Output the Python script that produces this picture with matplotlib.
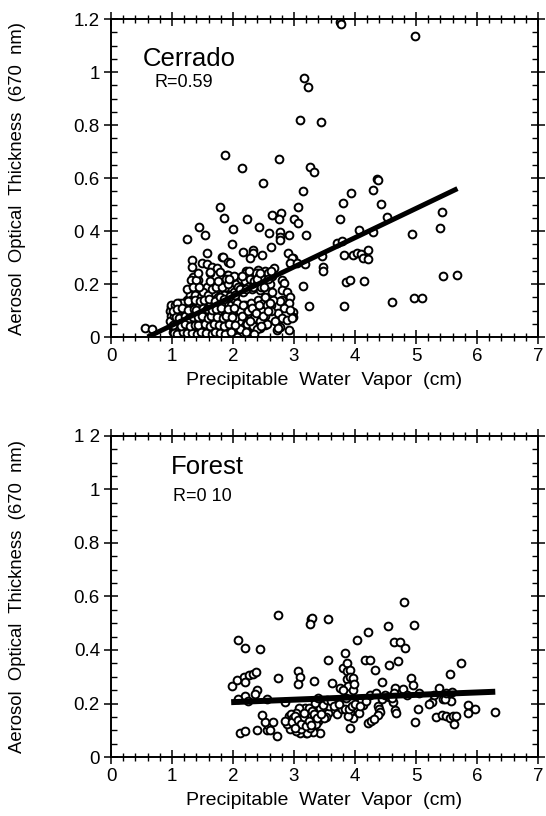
"""Aerosol optical thickness vs precipitable water vapor, Cerrado and Forest."""

import matplotlib
matplotlib.use("Agg")
import matplotlib.pyplot as plt
from matplotlib.ticker import MultipleLocator

plt.rcParams["font.family"] = ["Liberation Sans", "DejaVu Sans"]

# ---- Cerrado (top panel) ----
cerrado_x = [
    3.75, 3.77, 4.99, 3.16, 3.23, 3.10, 3.44, 1.87, 2.14, 2.75, 3.26, 3.32, 4.36, 2.50,
    1.79, 1.85, 2.23, 2.64, 2.79, 2.75, 3.00, 3.07, 3.06, 1.44, 1.54, 1.25, 2.00, 2.43,
    2.59, 2.77, 2.77, 2.77, 2.92, 1.99, 2.63, 1.57, 1.82, 2.17, 2.33, 2.33, 2.47, 2.90,
    1.33, 3.14, 3.93, 4.29, 4.37, 3.80, 4.42, 3.75, 4.52, 5.43, 5.40, 4.93, 3.19, 4.07,
    4.29, 3.70, 3.78, 3.82, 3.97, 4.03, 4.10, 4.21, 4.13, 4.22, 3.46, 3.18, 2.98, 3.47,
    3.48, 3.85, 3.92, 4.15, 3.15, 5.44, 5.67, 3.24, 3.82, 4.60, 4.96, 5.10, 2.99, 2.99,
    0.56, 0.68, 0.99, 1.49, 1.57, 1.66, 1.74, 1.32, 1.35, 1.43, 1.31, 1.38, 1.62, 1.74,
    1.62, 1.83, 1.92, 1.95, 2.28, 2.41, 2.96, 2.93, 3.05, 1.90, 2.03, 2.14, 2.28, 2.39,
    2.17, 2.50, 2.44, 2.80, 2.83, 2.80, 2.88, 2.93, 2.80, 2.91, 2.83, 2.93, 2.74, 2.80,
    2.88, 2.96, 2.77, 2.91, 2.72, 2.39, 2.44, 2.20, 1.40, 1.43, 1.62, 1.79, 1.92, 1.98,
    2.22, 2.41, 2.31, 2.52, 2.36, 2.22, 2.69, 2.74, 2.63, 2.77,
    # dense cluster
    0.97, 0.99, 1.01, 1.02, 1.04, 1.05, 1.07, 1.08, 1.10, 1.11, 1.13, 1.14, 1.16, 1.17,
    1.19, 1.20, 1.00, 1.06, 1.12, 1.18,
    1.22, 1.23, 1.24, 1.26, 1.27, 1.29, 1.30, 1.31, 1.33, 1.34, 1.36, 1.37, 1.38, 1.40,
    1.41, 1.42, 1.44, 1.45, 1.46, 1.48, 1.49, 1.25, 1.35, 1.47, 1.39,
    1.51, 1.52, 1.53, 1.55, 1.56, 1.57, 1.58, 1.60, 1.61, 1.62, 1.64, 1.65, 1.66, 1.67,
    1.69, 1.70, 1.71, 1.73, 1.74, 1.75, 1.77, 1.78, 1.79, 1.54, 1.63,
    1.81, 1.82, 1.83, 1.85, 1.86, 1.87, 1.89, 1.90, 1.92, 1.93, 1.95, 1.96, 1.97, 1.99,
    2.00, 2.02, 2.03, 2.05, 2.06, 2.08, 1.88, 2.01,
    2.10, 2.13, 2.16, 2.19, 2.22, 2.25, 2.28, 2.31, 2.34, 2.37, 2.40, 2.43, 2.46, 2.49,
    2.52, 2.55, 2.58, 2.61, 2.64, 2.67,
    2.10, 2.12, 2.15, 2.18, 2.20, 2.23, 2.26, 2.29, 2.32, 2.35, 2.38, 2.41, 2.44, 2.47,
    2.50, 2.53, 2.56, 2.59, 2.62, 2.65, 2.25, 2.40, 2.55,
    0.96, 0.98, 1.01, 1.03, 1.05, 1.07, 1.09, 1.11, 1.13, 1.15, 1.17, 1.19, 1.21, 1.23,
    1.25, 1.27, 1.29, 1.15, 1.02, 1.09,
    1.31, 1.33, 1.35, 1.37, 1.39, 1.41, 1.43, 1.45, 1.47, 1.49, 1.51, 1.53, 1.55, 1.57,
    1.59, 1.61, 1.63, 1.65, 1.67, 1.69, 1.32, 1.44, 1.58, 1.68,
    1.71, 1.72, 1.74, 1.76, 1.78, 1.80, 1.82, 1.84, 1.86, 1.88, 1.90, 1.91, 1.94, 1.96,
    1.98, 2.00, 2.02, 2.04, 2.06, 2.08, 1.76, 1.94, 2.07,
    2.12, 2.15, 2.21, 2.27, 2.33, 2.39, 2.45, 2.51, 2.57, 2.63,
    2.11, 2.14, 2.17, 2.21, 2.24, 2.28, 2.31, 2.34, 2.37, 2.43, 2.46, 2.49, 2.52, 2.58,
    2.61, 2.64,
    1.03, 1.09, 1.18, 1.24, 1.33, 1.41, 1.47, 1.55, 1.66, 1.71, 1.79, 1.87, 1.97,
    1.01, 1.14, 1.21, 1.29, 1.38, 1.42, 1.54, 1.62, 1.69, 1.77, 1.85, 1.93, 2.03,
    1.06, 1.12, 1.22, 1.28, 1.34, 1.43, 1.50, 1.59, 1.64, 1.73, 1.83, 1.89, 1.98,
    1.08, 1.17, 1.26, 1.36, 1.40, 1.51, 1.57, 1.65, 1.72, 1.81, 1.91, 2.01,
    1.27, 1.38, 1.46, 1.53, 1.61, 1.70, 1.78, 1.86, 1.95, 2.04,
]
cerrado_y = [
    1.19, 1.18, 1.137, 0.977, 0.945, 0.82, 0.811, 0.688, 0.638, 0.673, 0.64, 0.624, 0.596, 0.58,
    0.49, 0.448, 0.444, 0.459, 0.469, 0.446, 0.444, 0.49, 0.429, 0.416, 0.385, 0.37, 0.409, 0.415,
    0.391, 0.395, 0.378, 0.366, 0.385, 0.351, 0.338, 0.316, 0.303, 0.322, 0.328, 0.316, 0.309, 0.318,
    0.29, 0.55, 0.545, 0.554, 0.592, 0.507, 0.502, 0.444, 0.452, 0.47, 0.411, 0.388, 0.385, 0.405,
    0.395, 0.356, 0.363, 0.309, 0.311, 0.318, 0.313, 0.328, 0.297, 0.293, 0.306, 0.275, 0.297, 0.263,
    0.25, 0.206, 0.215, 0.21, 0.192, 0.231, 0.234, 0.118, 0.117, 0.131, 0.146, 0.146, 0.095, 0.077,
    0.035, 0.03, 0.112, 0.28, 0.275, 0.265, 0.26, 0.265, 0.228, 0.215, 0.215, 0.18, 0.243, 0.203,
    0.19, 0.303, 0.284, 0.278, 0.297, 0.253, 0.297, 0.278, 0.28, 0.234, 0.228, 0.222, 0.228, 0.215,
    0.19, 0.203, 0.177, 0.215, 0.203, 0.177, 0.171, 0.152, 0.14, 0.127, 0.108, 0.102, 0.089, 0.07,
    0.064, 0.07, 0.039, 0.026, 0.026, 0.033, 0.033, 0.02, 0.216, 0.242, 0.245, 0.245, 0.235, 0.197,
    0.248, 0.242, 0.223, 0.046, 0.059, 0.028, 0.059, 0.034, 0.122, 0.135,
    # dense cluster
    0.10, 0.08, 0.11, 0.06, 0.09, 0.03, 0.07, 0.11, 0.05, 0.09, 0.02, 0.07, 0.10, 0.04,
    0.08, 0.12, 0.04, 0.12, 0.13, 0.01,
    0.05, 0.10, 0.14, 0.02, 0.07, 0.12, 0.16, 0.04, 0.09, 0.13, 0.01, 0.06, 0.11, 0.15,
    0.03, 0.08, 0.12, 0.17, 0.05, 0.10, 0.14, 0.18, 0.19, 0.02, 0.00,
    0.07, 0.12, 0.16, 0.03, 0.09, 0.14, 0.19, 0.05, 0.11, 0.15, 0.01, 0.08, 0.13, 0.18,
    0.04, 0.10, 0.16, 0.06, 0.12, 0.20, 0.02, 0.09, 0.14, 0.00, 0.21,
    0.05, 0.11, 0.17, 0.01, 0.08, 0.13, 0.19, 0.04, 0.10, 0.15, 0.02, 0.07, 0.12, 0.18,
    0.05, 0.09, 0.14, 0.20, 0.03, 0.11, 0.22, 0.23,
    0.19, 0.22, 0.17, 0.21, 0.24, 0.19, 0.22, 0.18, 0.21, 0.24, 0.20, 0.23, 0.19, 0.22,
    0.25, 0.21, 0.24, 0.20, 0.23, 0.26,
    0.06, 0.10, 0.02, 0.08, 0.12, 0.05, 0.09, 0.13, 0.04, 0.07, 0.11, 0.14, 0.06, 0.10,
    0.13, 0.08, 0.12, 0.15, 0.10, 0.14, 0.01, 0.03, 0.05,
    0.06, 0.12, 0.02, 0.08, 0.12, 0.04, 0.09, 0.01, 0.11, 0.05, 0.13, 0.03, 0.09, 0.01,
    0.11, 0.04, 0.08, 0.00, 0.10, 0.13,
    0.14, 0.06, 0.10, 0.16, 0.03, 0.12, 0.05, 0.09, 0.15, 0.01, 0.17, 0.05, 0.11, 0.07,
    0.16, 0.02, 0.13, 0.18, 0.05, 0.14, 0.00, 0.19, 0.02, 0.10,
    0.07, 0.19, 0.02, 0.15, 0.05, 0.12, 0.19, 0.03, 0.16, 0.10, 0.01, 0.20, 0.06, 0.16,
    0.10, 0.01, 0.17, 0.07, 0.13, 0.19, 0.21, 0.22, 0.00,
    0.18, 0.23, 0.18, 0.25, 0.19, 0.22, 0.24, 0.19, 0.22, 0.25,
    0.03, 0.08, 0.12, 0.02, 0.10, 0.06, 0.11, 0.01, 0.09, 0.12, 0.04, 0.08, 0.15, 0.10,
    0.13, 0.17,
    0.016, 0.012, 0.019, 0.014, 0.017, 0.011, 0.018, 0.015, 0.013, 0.02, 0.016, 0.012, 0.018,
    0.046, 0.043, 0.049, 0.041, 0.047, 0.044, 0.05, 0.042, 0.048, 0.045, 0.043, 0.049, 0.046,
    0.077, 0.073, 0.079, 0.071, 0.076, 0.074, 0.08, 0.072, 0.078, 0.075, 0.073, 0.079, 0.076,
    0.104, 0.108, 0.101, 0.107, 0.103, 0.109, 0.105, 0.102, 0.106, 0.11, 0.104, 0.108,
    0.136, 0.141, 0.134, 0.139, 0.145, 0.137, 0.15, 0.142, 0.155, 0.16,
]
cerrado_fit_x = [0.60, 5.68]
cerrado_fit_y = [0.00, 0.56]

# ---- Forest (bottom panel) ----
forest_x = [
    1.99, 2.08, 2.19, 2.45, 2.73, 2.06, 2.18, 2.27, 2.33, 2.38, 2.19, 2.40, 2.36, 2.20, 2.08,
    2.11, 2.20, 2.40, 2.55, 2.58, 2.52, 2.47, 2.66, 2.72, 2.61,
    2.74, 3.07, 3.10, 3.06, 3.32, 3.28, 3.30, 3.26, 3.55, 3.56, 3.62,
    2.92, 2.96, 3.00, 3.03, 3.08, 3.10, 3.13, 3.18, 3.20, 3.23, 3.27, 3.29, 3.32, 3.35,
    3.38, 3.40, 3.20, 3.10, 3.03, 2.94, 2.89, 2.86, 3.15, 3.18, 3.25, 3.29, 3.09, 3.03,
    3.39, 3.43, 3.35, 3.42, 3.31, 3.21, 2.95, 3.05, 3.14, 3.22, 3.26, 3.12, 2.99, 3.36,
    3.55, 3.58, 3.52, 3.49, 3.47, 3.54, 3.71, 3.78, 3.83, 3.92, 3.96, 3.92, 3.89,
    3.80, 3.87, 3.87, 3.87, 3.92, 3.92, 3.89, 3.76, 3.81, 3.96, 3.97, 3.98, 3.84,
    4.03, 4.21, 4.16, 4.24, 4.33, 4.45, 4.54, 4.55, 4.64, 4.74, 4.82, 4.71, 4.80, 4.96,
    4.92, 4.95, 4.65, 4.64, 4.78, 4.65, 4.68, 4.63, 4.37, 4.40, 4.41, 4.37, 4.22, 4.27,
    4.31, 4.13, 4.03, 4.06, 4.10, 4.45, 4.55,
    5.03, 4.99, 5.55, 5.73, 5.38, 5.44, 5.26, 5.59, 5.58, 5.85, 5.96, 5.85, 6.29,
    5.33, 5.43, 5.50, 5.56, 5.60, 5.63, 5.66, 5.22, 5.48,
    2.97, 3.01, 3.06, 3.11, 3.16, 3.19, 3.24, 3.28, 3.33, 3.37, 3.02, 3.17, 3.45, 3.60,
    3.66, 3.74, 3.85, 3.90, 3.95, 4.00, 4.08, 4.18, 4.25, 4.35, 4.50, 4.60, 4.85, 5.05,
    5.30, 5.50, 2.25, 2.55, 2.85, 3.40,
]
forest_y = [
    0.264, 0.436, 0.407, 0.405, 0.53, 0.288, 0.30, 0.305, 0.31, 0.318, 0.28, 0.252, 0.235, 0.228, 0.217,
    0.089, 0.098, 0.101, 0.101, 0.12, 0.132, 0.157, 0.132, 0.079, 0.101,
    0.297, 0.322, 0.298, 0.274, 0.284, 0.515, 0.52, 0.499, 0.517, 0.362, 0.276,
    0.153, 0.128, 0.109, 0.14, 0.121, 0.159, 0.146, 0.103, 0.128, 0.171, 0.153, 0.134, 0.115, 0.146,
    0.165, 0.134, 0.09, 0.09, 0.096, 0.103, 0.125, 0.134, 0.178, 0.184, 0.184, 0.171, 0.184, 0.163,
    0.19, 0.184, 0.203, 0.09, 0.093, 0.088, 0.16, 0.12, 0.13, 0.15, 0.11, 0.105, 0.145, 0.125,
    0.165, 0.19, 0.15, 0.146, 0.196, 0.213, 0.159, 0.178, 0.18, 0.109, 0.146, 0.168, 0.155,
    0.331, 0.35, 0.321, 0.293, 0.325, 0.30, 0.265, 0.258, 0.252, 0.252, 0.296, 0.274, 0.389,
    0.437, 0.468, 0.362, 0.362, 0.325, 0.281, 0.491, 0.345, 0.431, 0.429, 0.407, 0.359, 0.58, 0.494,
    0.295, 0.27, 0.259, 0.24, 0.254, 0.175, 0.165, 0.207, 0.19, 0.18, 0.168, 0.157, 0.128, 0.135,
    0.142, 0.196, 0.178, 0.163, 0.21, 0.215, 0.225,
    0.18, 0.129, 0.309, 0.352, 0.259, 0.215, 0.205, 0.242, 0.209, 0.196, 0.18, 0.165, 0.167,
    0.15, 0.157, 0.152, 0.146, 0.152, 0.125, 0.155, 0.2, 0.216,
    0.13, 0.155, 0.14, 0.125, 0.15, 0.115, 0.135, 0.12, 0.16, 0.145, 0.11, 0.165, 0.16, 0.21,
    0.19, 0.20, 0.22, 0.18, 0.19, 0.20, 0.19, 0.21, 0.23, 0.24, 0.23, 0.22, 0.23, 0.24,
    0.23, 0.24, 0.21, 0.215, 0.205, 0.22,
]
forest_fit_x = [1.97, 6.30]
forest_fit_y = [0.205, 0.244]

x_ticks = [0, 1, 2, 3, 4, 5, 6, 7]
y_ticks = [0, 0.2, 0.4, 0.6, 0.8, 1.0, 1.2]
cerrado_ylabels = ["0", "0.2", "0 4", "0.6", "0.8", "1", "1.2"]
forest_ylabels = ["0", "0.2", "0.4", "0.6", "0.8", "1", "1 2"]


def panel(ax, xs, ys, fx, fy, fit_lw, name, rtext, name_xy, r_xy, ylabels):
    ax.plot(xs, ys, ls="none", marker="o", ms=5.6, mfc="white", mec="black",
            mew=1.4, zorder=2)
    ax.plot(fx, fy, color="black", lw=fit_lw, solid_capstyle="butt", zorder=3)
    ax.set_xlim(0, 7)
    ax.set_ylim(0, 1.2)
    ax.set_xticks(x_ticks)
    ax.set_yticks(y_ticks)
    ax.set_yticklabels(ylabels)
    ax.xaxis.set_minor_locator(MultipleLocator(0.2))
    ax.yaxis.set_minor_locator(MultipleLocator(0.05))
    ax.tick_params(which="major", direction="inout", length=10, width=1.1,
                   top=True, right=True, labelsize=13.5, pad=3)
    ax.tick_params(axis="x", which="minor", direction="inout", length=6,
                   width=1.0, top=True, bottom=True)
    ax.tick_params(axis="y", which="minor", direction="in", length=4,
                   width=1.0, left=True, right=True)
    for s in ax.spines.values():
        s.set_linewidth(1.4)
    ax.set_xlabel("Precipitable  Water  Vapor  (cm)", fontsize=14, labelpad=5)
    ax.set_ylabel("Aerosol  Optical  Thickness  (670  nm)", fontsize=13.3)
    ax.yaxis.set_label_coords(-0.198, 0.5)
    ax.text(name_xy[0], name_xy[1], name, fontsize=18.5, va="center", ha="left")
    ax.text(r_xy[0], r_xy[1], rtext, fontsize=13, va="center", ha="left")


fig = plt.figure(figsize=(5.46, 8.16), dpi=100)
ax1 = fig.add_axes([0.2033, 0.587, 0.782, 0.3897])
ax2 = fig.add_axes([0.2033, 0.0723, 0.782, 0.3934])

panel(ax1, cerrado_x, cerrado_y, cerrado_fit_x, cerrado_fit_y, 3.6,
      "Cerrado", "R=0.59", (0.52, 1.05), (0.72, 0.96), cerrado_ylabels)
panel(ax2, forest_x, forest_y, forest_fit_x, forest_fit_y, 4.3,
      "Forest", "R=0 10", (0.98, 1.084), (1.02, 0.972), forest_ylabels)

fig.savefig("out.png", dpi=100)
